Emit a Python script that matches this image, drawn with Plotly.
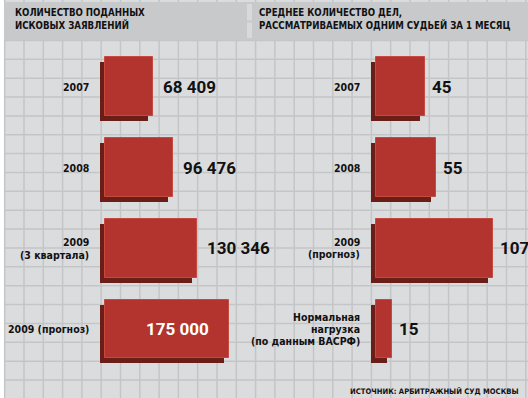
import plotly.graph_objects as go

# ---------------- data ----------------
left_title = ["КОЛИЧЕСТВО ПОДАННЫХ", "ИСКОВЫХ ЗАЯВЛЕНИЙ"]
right_title = ["СРЕДНЕЕ КОЛИЧЕСТВО ДЕЛ,", "РАССМАТРИВАЕМЫХ ОДНИМ СУДЬЕЙ ЗА 1 МЕСЯЦ"]
left_categories = [["2007"], ["2008"], ["2009", "(3 квартала)"], ["2009 (прогноз)"]]
left_values = [68409, 96476, 130346, 175000]
left_labels = ["68 409", "96 476", "130 346", "175 000"]
right_categories = [["2007"], ["2008"], ["2009", "(прогноз)"],
                    ["Нормальная", "нагрузка", "(по данным ВАСРФ)"]]
right_values = [45, 55, 107, 15]
right_labels = ["45", "55", "107", "15"]
source = "ИСТОЧНИК: АРБИТРАЖНЫЙ СУД МОСКВЫ"

# ---------------- style ----------------
W, H = 528, 398
FACE = "#b3342e"
SHADOW = "#6b1d18"
BG = "#dbdcde"
GRID = "#c4c5c7"
HEAD = "#c8c9cb"
NARROW = "DejaVu Sans Condensed, Roboto, sans-serif"
NUMF = "Roboto, Liberation Sans, sans-serif"

# pixel mapping of axes (full-width domains)
L0, LK = 105.0, 175000 / 123.5      # left: origin px, units per px
R0, RK = 375.7, 1 / 1.095           # right
ROW0, ROWSTEP = 86.7, 80.8          # y px of first row center, px per row
BARH = 58.5 / ROWSTEP
SH = 5.0                            # shadow offset px

rows = list(range(4))
fig = go.Figure()

def add_panel(values, xa, k):
    fig.add_trace(go.Bar(
        x=values, y=[r + SH / ROWSTEP for r in rows], base=[-SH * k] * len(values),
        orientation="h", width=BARH, marker=dict(color=SHADOW, line=dict(width=0)),
        xaxis=xa, yaxis="y", hoverinfo="skip", showlegend=False))
    fig.add_trace(go.Bar(
        x=values, y=rows, base=[0] * len(values),
        orientation="h", width=BARH,
        marker=dict(color=FACE, line=dict(width=1, color="#c4493f")),
        xaxis=xa, yaxis="y", showlegend=False))

add_panel(left_values, "x", LK)
add_panel(right_values, "x2", RK)

ann = []
# category labels (one annotation per line)
def cat_labels(cats, xref, lh):
    for r, lines in zip(rows, cats):
        n = len(lines)
        for j, t in enumerate(lines):
            ann.append(dict(x=0, y=r, xref=xref, yref="y", text="<b>%s</b>" % t,
                            xanchor="right", yanchor="middle", showarrow=False,
                            xshift=-14, yshift=-(j - (n - 1) / 2) * lh,
                            font=dict(family=NARROW, size=10.5, color="#111")))
cat_labels(left_categories, "x", 13)
cat_labels(right_categories, "x2", 12)

# value labels
for r, v, t in zip(rows, left_values, left_labels):
    inside = v == max(left_values)
    ann.append(dict(x=v, y=r, xref="x", yref="y", text="<b>%s</b>" % t,
                    xanchor="right" if inside else "left", yanchor="middle",
                    showarrow=False, xshift=-18 if inside else 8,
                    font=dict(family=NUMF, size=17, color="white" if inside else "#111")))
for r, v, t in zip(rows, right_values, right_labels):
    ann.append(dict(x=v, y=r, xref="x2", yref="y", text="<b>%s</b>" % t,
                    xanchor="left", yanchor="middle", showarrow=False, xshift=5,
                    font=dict(family=NUMF, size=17, color="#111")))

# headers
for j, t in enumerate(left_title):
    ann.append(dict(x=12.5 / W, y=1 - (12.5 + 12.5 * j) / H, xref="paper", yref="paper",
                    text="<b>%s</b>" % t, xanchor="left", yanchor="middle", showarrow=False,
                    font=dict(family=NARROW, size=9.6, color="#111")))
for j, t in enumerate(right_title):
    ann.append(dict(x=257 / W, y=1 - (12.5 + 12.5 * j) / H, xref="paper", yref="paper",
                    text="<b>%s</b>" % t, xanchor="left", yanchor="middle", showarrow=False,
                    font=dict(family=NARROW, size=9.6, color="#111")))
ann.append(dict(x=521 / W, y=1 - 390.5 / H, xref="paper", yref="paper",
                text="<b>%s</b>" % source, xanchor="right", yanchor="middle", showarrow=False,
                font=dict(family=NARROW, size=7.6, color="#111")))

# background, grid, header
shapes = [dict(type="rect", xref="paper", yref="paper", x0=4 / W, x1=1, y0=0, y1=1,
               fillcolor=BG, line=dict(width=0), layer="below")]
x = 4.7
while x < W:
    shapes.append(dict(type="line", xref="paper", yref="paper", x0=x / W, x1=x / W,
                       y0=0, y1=1, line=dict(color=GRID, width=1.5), layer="below"))
    x += 19.3
y = 40.4
while y < H:
    shapes.append(dict(type="line", xref="paper", yref="paper", x0=4 / W, x1=1,
                       y0=1 - y / H, y1=1 - y / H, line=dict(color=GRID, width=1.5),
                       layer="below"))
    y += 18.87
shapes.append(dict(type="rect", xref="paper", yref="paper", x0=4 / W, x1=1,
                   y0=1 - 40 / H, y1=1 - 2 / H, fillcolor=HEAD, line=dict(width=0),
                   layer="below"))
shapes.append(dict(type="rect", xref="paper", yref="paper", x0=247 / W, x1=252 / W,
                   y0=1 - 38 / H, y1=1 - 4 / H, fillcolor="#d8d9db", line=dict(width=0),
                   layer="below"))
shapes.append(dict(type="line", xref="paper", yref="paper", x0=247 / W, x1=252 / W,
                   y0=1 - 21.5 / H, y1=1 - 21.5 / H, line=dict(color=HEAD, width=2),
                   layer="below"))

fig.update_layout(
    width=W, height=H, margin=dict(l=0, r=0, t=0, b=0),
    paper_bgcolor="white", plot_bgcolor="rgba(0,0,0,0)",
    barmode="overlay", bargap=0,
    xaxis=dict(domain=[0, 1], range=[-L0 * LK, (W - L0) * LK], visible=False, fixedrange=True),
    xaxis2=dict(domain=[0, 1], range=[-R0 * RK, (W - R0) * RK], visible=False,
                overlaying="x", fixedrange=True),
    yaxis=dict(domain=[0, 1], range=[(H - ROW0) / ROWSTEP, -ROW0 / ROWSTEP],
               visible=False, fixedrange=True),
    shapes=shapes, annotations=ann,
)

fig.write_html("out.html", config={"displayModeBar": False},
               post_script="document.body.style.margin='0';document.body.style.overflow='hidden';")
